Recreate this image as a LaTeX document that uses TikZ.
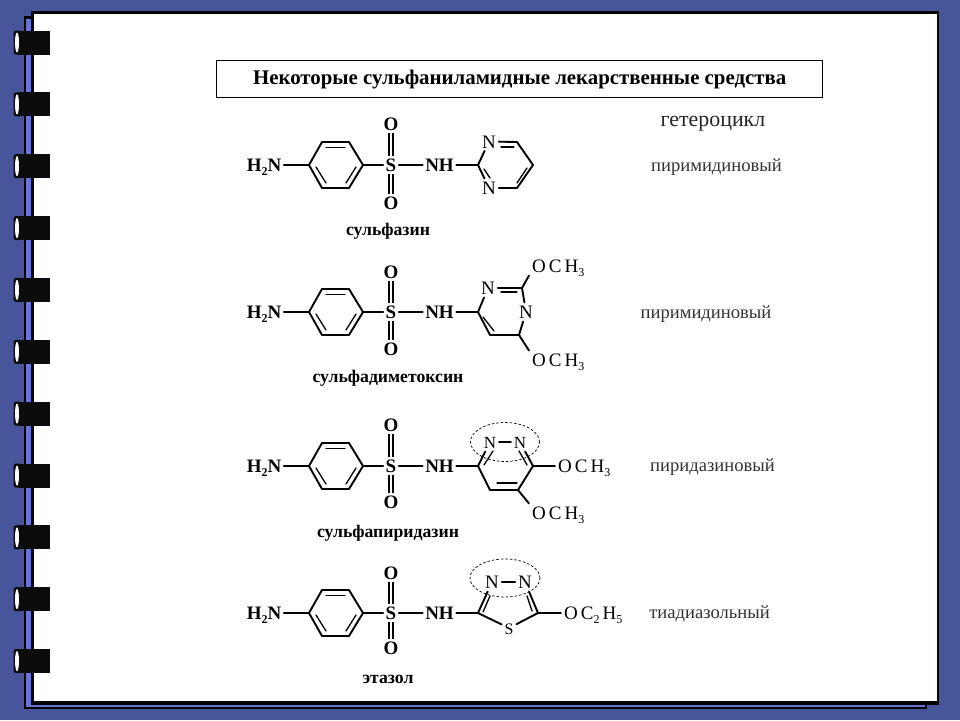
\documentclass[tikz,border=0pt]{standalone}
\usepackage{fontspec}
\setmainfont{Liberation Serif}
\usetikzlibrary{shapes.geometric}
\definecolor{bluebg}{HTML}{47569A}
\definecolor{stripe}{HTML}{6773D6}
\definecolor{ringblack}{HTML}{0C0C0C}
\newcommand{\fsz}[1]{\fontsize{#1}{#1}\selectfont}
\newcommand{\subs}[1]{\raisebox{-3.5pt}{\fsz{12}#1}}
\tikzset{
  x=1pt,y=-1pt,
  bond/.style={line width=1.9pt,line cap=round},
  thinbond/.style={line width=1.3pt,line cap=round},
  dbond/.style={double,double distance=2.6pt,line width=1.3pt},
  atomb/.style={inner sep=0pt,outer sep=2.5pt,text height=13pt,text depth=0pt,font=\fsz{19}\bfseries},
  atomr/.style={inner sep=0pt,outer sep=3pt,text height=13pt,text depth=0pt,font=\fsz{19}},
  name label/.style={inner sep=0pt,font=\fsz{17.7}\bfseries},
  het label/.style={inner sep=0pt,text=black!80,font=\fsz{18.6}},
  ringoval/.style={draw,ellipse,dashed,dash pattern=on 2.5pt off 2pt,line width=.7pt,inner sep=0pt},
}
% \innerb{name}{x1,y1}{x2,y2}: short second line of a double bond
\newcommand{\innerb}[3]{\coordinate (#1a) at (#2);\coordinate (#1b) at (#3);\draw[thinbond] (#1a) -- (#1b);}
% common part: sulfanilamide core. #1 top O offset, #2 bottom O offset
\newcommand{\core}[2]{%
  \node[atomb,anchor=center] (h2n) at (264,0) {H\subs{2}N};
  \coordinate (b1) at (309,0);\coordinate (b2) at (322,-23);\coordinate (b3) at (349,-23);
  \coordinate (b4) at (363,0);\coordinate (b5) at (349,23);\coordinate (b6) at (322,23);
  \draw[bond,line join=round] (b1)--(b2)--(b3)--(b4)--(b5)--(b6)--cycle;
  \innerb{ba}{326,-17.5}{345,-17.5}
  \innerb{bb}{316,2}{326,18}
  \innerb{bc}{356,2}{346,18}
  \node[atomb] (s) at (391,0) {S};
  \node[atomb] (ot) at (391,#1) {O};
  \node[atomb] (ob) at (391,#2) {O};
  \node[atomb,anchor=center] (nh) at (439.5,0) {NH};
  \coordinate (c1) at (478,0);
  \draw[bond] (h2n) -- (b1);
  \draw[bond] (b4) -- (s);
  \draw[dbond] (s) -- (ot);
  \draw[dbond] (s) -- (ob);
  \draw[bond] (s) -- (nh);
  \draw[bond] (nh) -- (c1);
}
\begin{document}
\begin{tikzpicture}
\useasboundingbox (0,0) rectangle (960,720);
% frame
\fill[bluebg] (0,0) rectangle (960,720);
\fill[black] (23.5,16) rectangle (927,709.3);
\fill[stripe] (26,19) rectangle (925,706.8);
\fill[black] (31,11) rectangle (939,704.7);
\fill[white] (34,13.5) rectangle (937,701);
% rings
\foreach \yy in {42.5,104.4,166.2,228.1,289.9,351.8,413.6,475.5,537.3,599.2,661}{
  \fill[ringblack,rounded corners=2.5pt] (13.5,\yy-12) -- (22,\yy-12) -- (22,\yy+12) -- (13.5,\yy+12) -- cycle;
  \fill[ringblack] (18,\yy-12) rectangle (50,\yy+12);
  \fill[white] (17,\yy) ellipse [x radius=2,y radius=10];
}
% title
\node[draw,line width=1.3pt,anchor=north west,minimum width=606pt,minimum height=37pt,inner sep=0pt,font=\fsz{20.85}\bfseries] (title) at (216,60) {Некоторые сульфаниламидные лекарственные средства};
\node[inner sep=0pt,font=\fsz{21.9},text=black!85] (het) at (713,124) {гетероцикл};
% row 1
\begin{scope}[shift={(0,165)},name prefix=ra-]
  \core{-41}{38}
  \node[atomr] (n1) at (489,-23.5) {N};
  \node[atomr] (n2) at (489,23) {N};
  \coordinate (c2) at (517,-23);\coordinate (c3) at (533,0);\coordinate (c4) at (517,23);
  \draw[bond] (c1) -- (n1);
  \draw[bond] (n1) -- (c2);
  \draw[bond] (c2) -- (c3);
  \draw[bond] (c3) -- (c4);
  \draw[bond] (c4) -- (n2);
  \draw[bond] (n2) -- (c1);
  \innerb{ia}{501,-18}{514,-18}
  \innerb{ib}{527,3}{517,18}
  \innerb{ic}{484,4}{490,13}
  \node[name label] (lab) at (388,66.5) {сульфазин};
  \node[het label] (cls) at (716.5,2) {пиримидиновый};
\end{scope}
% row 2
\begin{scope}[shift={(0,312)},name prefix=rb-]
  \core{-40}{37}
  \node[atomr] (n1) at (488,-24) {N};
  \node[atomr] (n2) at (526,0) {N};
  \coordinate (c2) at (522,-24);\coordinate (c4) at (519,23);\coordinate (c5) at (490,23);
  \node[atomr,anchor=west] (o1) at (529,-46) {O\,C\,H\subs{3}};
  \node[atomr,anchor=west] (o2) at (529,48) {O\,C\,H\subs{3}};
  \draw[bond] (c1) -- (n1);
  \draw[bond] (n1) -- (c2);
  \draw[bond] (c2) -- (n2);
  \draw[bond] (n2) -- (c4);
  \draw[bond] (c4) -- (c5);
  \draw[bond] (c5) -- (c1);
  \draw[bond] (c2) -- (o1.south west);
  \draw[bond] (c4) -- (o2.north west);
  \innerb{ia}{501,-20}{517,-20}
  \innerb{ib}{483,5}{494,19}
  \node[name label] (lab) at (388,66) {сульфадиметоксин};
  \node[het label] (cls) at (706,2) {пиримидиновый};
\end{scope}
% row 3
\begin{scope}[shift={(0,466)},name prefix=rc-]
  \core{-41}{36}
  \node[atomr,font=\fsz{17}] (n1) at (490,-24) {N};
  \node[atomr,font=\fsz{17}] (n2) at (520,-24) {N};
  \coordinate (c3) at (533,0);\coordinate (c4) at (518,24);\coordinate (c5) at (490,24);
  \node[atomr,anchor=west] (o1) at (555,0) {O\,C\,H\subs{3}};
  \node[atomr,anchor=west] (o2) at (529,47) {O\,C\,H\subs{3}};
  \draw[bond] (c1) -- (n1);
  \draw[bond] (n1) -- (n2);
  \draw[bond] (n2) -- (c3);
  \draw[bond] (c3) -- (c4);
  \draw[bond] (c4) -- (c5);
  \draw[bond] (c5) -- (c1);
  \draw[bond] (c3) -- (o1);
  \draw[bond] (c4) -- (o2.north west);
  \innerb{ia}{484,-1}{493,-15}
  \innerb{ib}{527,-1}{519,-15}
  \innerb{ic}{497,17}{517,17}
  \node[ringoval,minimum width=69pt,minimum height=39pt] (oval) at (505,-24) {};
  \node[name label] (lab) at (388,67) {сульфапиридазин};
  \node[het label] (cls) at (712.5,1) {пиридазиновый};
\end{scope}
% row 4
\begin{scope}[shift={(0,613)},name prefix=rd-]
  \core{-40}{35}
  \node[atomr] (n1) at (492,-31) {N};
  \node[atomr] (n2) at (525,-31) {N};
  \node[atomr,font=\fsz{16}] (s2) at (509,15) {S};
  \coordinate (c3) at (538,0);
  \node[atomr,anchor=west] (o1) at (561,0) {O\,C\subs{2}\,H\subs{5}};
  \draw[bond] (c1) -- (n1);
  \draw[bond] (n1) -- (n2);
  \draw[bond] (n2) -- (c3);
  \draw[bond] (c3) -- (s2);
  \draw[bond] (s2) -- (c1);
  \draw[bond] (c3) -- (o1);
  \innerb{ia}{483,-1}{490,-17}
  \innerb{ib}{532,-2}{527,-17}
  \node[ringoval,minimum width=70pt,minimum height=38pt] (oval) at (505,-35) {};
  \node[name label] (lab) at (388,66) {этазол};
  \node[het label] (cls) at (709.5,1) {тиадиазольный};
\end{scope}
\end{tikzpicture}
\end{document}
